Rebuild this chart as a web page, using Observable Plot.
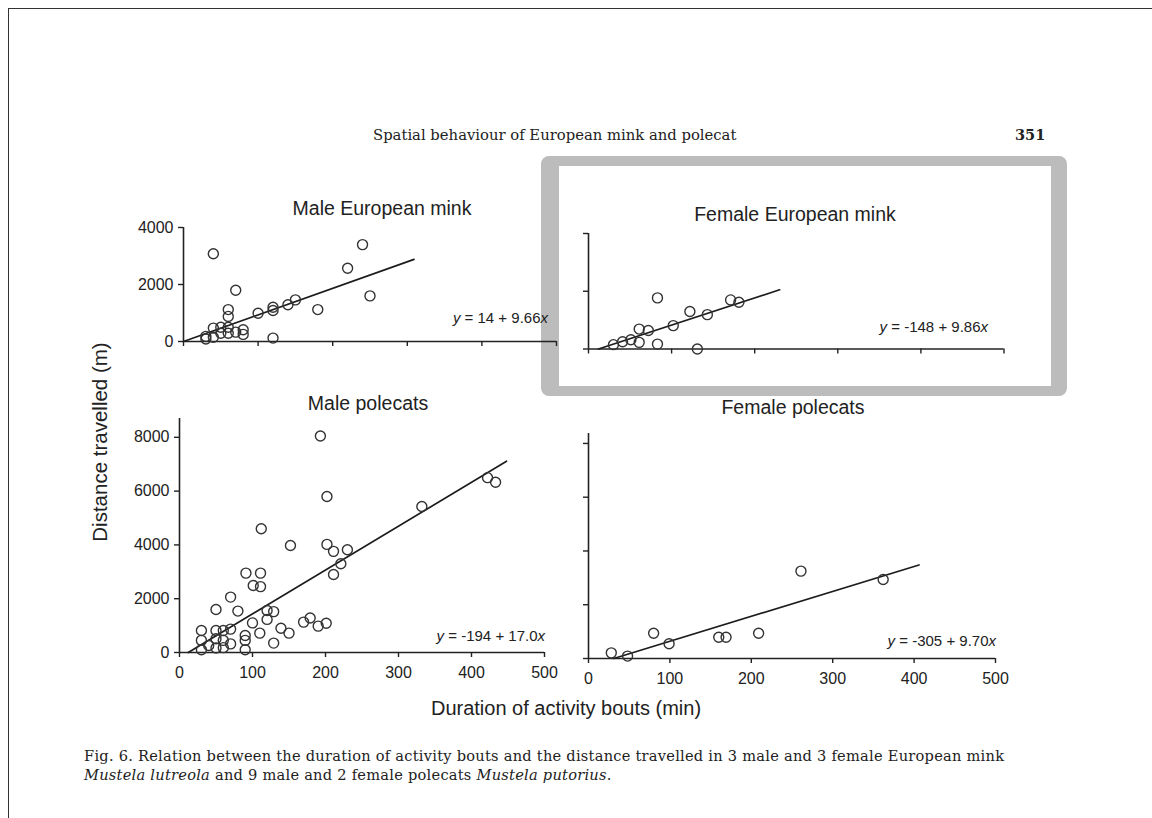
<!DOCTYPE html>
<html>
<head>
<meta charset="utf-8">
<script src="https://cdn.jsdelivr.net/npm/d3@7"></script>
<script src="https://cdn.jsdelivr.net/npm/@observablehq/plot@0.6"></script>
<style>
  html, body { margin: 0; padding: 0; background: #fff; }
  #page { position: relative; width: 1152px; height: 818px; overflow: hidden; background: #fff; color: #222; }
  .abs { position: absolute; white-space: nowrap; }
  .sans { font-family: "Liberation Sans", Arial, sans-serif; }
  .serif { font-family: "DejaVu Serif", "Liberation Serif", serif; }
</style>
</head>
<body>
<div id="page"></div>
<script>
// ---- Data: [duration of activity bout (min), distance travelled (m)] ----
const maleMink = [[30,90],[30,180],[40,150],[40,470],[50,500],[50,290],[60,1120],[60,880],[60,500],[60,290],
  [70,1800],[70,330],[80,410],[80,250],[100,990],[120,1200],[120,1090],[120,120],[140,1290],[150,1460],
  [180,1120],[220,2570],[240,3400],[250,1600],[40,3080]];
const maleMinkFit = [[0,0],[309,2880]];
const maleMinkEq = ["14", "9.66"];

const femaleMink = [[30,150],[41,250],[51,320],[61,230],[61,690],[72,640],[83,1770],[83,170],[102,810],
  [122,1300],[131,0],[143,1190],[171,1700],[181,1620]];
const femaleMinkFit = [[12,0],[230,2050]];
const femaleMinkEq = ["-148", "9.86"];

const malePolecat = [[193,8050],[202,5800],[332,5430],[422,6500],[433,6330],[112,4600],[152,3980],[202,4020],
  [211,3760],[230,3820],[221,3300],[211,2900],[91,2950],[111,2950],[101,2490],[111,2450],[70,2060],[50,1600],
  [80,1540],[120,1560],[129,1520],[120,1230],[100,1100],[170,1130],[179,1280],[190,980],[201,1090],[139,900],
  [150,720],[110,720],[129,350],[30,820],[30,450],[30,100],[40,260],[50,820],[50,510],[50,170],[60,820],
  [60,450],[60,180],[70,870],[70,320],[90,630],[90,450],[90,100]];
const malePolecatFit = [[12,0],[448,7110]];
const malePolecatEq = ["-194", "17.0"];

const femalePolecat = [[28,210],[48,90],[80,940],[99,550],[160,790],[169,790],[209,940],[261,3250],[362,2940]];
const femalePolecatFit = [[31,0],[406,3480]];
const femalePolecatEq = ["-305", "9.70"];

const xTicks = [0, 100, 200, 300, 400, 500];
const yTicksMink = [0, 2000, 4000];
const yTicksPolecat = [0, 2000, 4000, 6000, 8000];

const titles = ["Male European mink", "Female European mink", "Male polecats", "Female polecats"];
const yTitle = "Distance travelled (m)";
const xTitle = "Duration of activity bouts (min)";
const header = "Spatial behaviour of European mink and polecat";
const pageNo = "351";

// ---- Layout helpers ----
const page = document.getElementById("page");
function place(el, left, top) { el.style.position = "absolute"; el.style.left = left + "px"; el.style.top = top + "px"; page.appendChild(el); return el; }
function label(html, cls, css) {
  const d = document.createElement("div");
  d.className = "abs " + cls;
  d.innerHTML = html;
  Object.assign(d.style, css);
  page.appendChild(d);
  return d;
}

function panel({left, right, top, bottom, yMax, yTicks, yLabels, xLabels, points, fit}) {
  const mL = 70, mR = 14, mT = 10, mB = 36;
  const width = right - left + mL + mR, height = bottom - top + mT + mB;
  const chart = Plot.plot({
    width, height, marginLeft: mL, marginRight: mR, marginTop: mT, marginBottom: mB,
    x: {domain: [0, 500]},
    y: {domain: [0, yMax]},
    style: {fontFamily: "'Liberation Sans', Arial, sans-serif", fontSize: "16px", color: "#222", background: "transparent", overflow: "visible"},
    marks: [
      Plot.ruleY([0], {stroke: "#222", strokeWidth: 1.6}),
      Plot.ruleX([0], {stroke: "#222", strokeWidth: 1.6}),
      Plot.axisX({ticks: xTicks, tickSize: 5, tickPadding: 9, strokeWidth: 1.4, label: null,
        tickFormat: xLabels ? (d => String(d)) : (() => "")}),
      Plot.axisY({ticks: yTicks, tickSize: 5, tickPadding: 5, strokeWidth: 1.4, label: null,
        tickFormat: yLabels ? (d => String(d)) : (() => "")}),
      Plot.line(fit, {x: d => d[0], y: d => d[1], stroke: "#1c1c1c", strokeWidth: 1.7}),
      Plot.dot(points, {x: d => d[0], y: d => d[1], r: 5, stroke: "#333", strokeWidth: 1.4, fill: "none"})
    ]
  });
  place(chart, left - mL, top - mT);
}

// ---- Page frame lines ----
const frame = document.createElement("div");
Object.assign(frame.style, {width: "1160px", height: "830px", borderTop: "1.5px solid #333", borderLeft: "1.5px solid #333"});
place(frame, 8, 8);

// ---- Grey highlight box around the female mink panel ----
const box = document.createElement("div");
Object.assign(box.style, {width: "492px", height: "220px", borderStyle: "solid", borderColor: "#bcbcbc",
  borderWidth: "10px 16px 10px 18px", borderRadius: "8px", boxSizing: "content-box"});
place(box, 541, 156);

// ---- Panels ----
panel({left: 183, right: 556, top: 227, bottom: 341, yMax: 4000, yTicks: yTicksMink, yLabels: true, xLabels: false, points: maleMink, fit: maleMinkFit});
panel({left: 587.5, right: 1003, top: 233, bottom: 348.5, yMax: 4000, yTicks: yTicksMink, yLabels: false, xLabels: false, points: femaleMink, fit: femaleMinkFit});
panel({left: 179, right: 544, top: 418, bottom: 652, yMax: 8700, yTicks: yTicksPolecat, yLabels: true, xLabels: true, points: malePolecat, fit: malePolecatFit});
panel({left: 588, right: 995, top: 433, bottom: 658, yMax: 8370, yTicks: yTicksPolecat, yLabels: false, xLabels: true, points: femalePolecat, fit: femalePolecatFit});

// ---- Panel titles ----
const titlePos = [[382, 208], [795, 214], [368, 403], [793, 407]];
titles.forEach((t, i) => label(t, "sans", {left: titlePos[i][0] + "px", top: titlePos[i][1] + "px", transform: "translate(-50%,-50%)", fontSize: "19.5px"}));

// ---- Equations ----
function eq(e) { return `<i>y</i> = ${e[0]} + ${e[1]}<i>x</i>`; }
const eqPos = [[maleMinkEq, 548, 317], [femaleMinkEq, 988, 326], [malePolecatEq, 545, 635], [femalePolecatEq, 996, 640]];
eqPos.forEach(([e, r, y]) => label(eq(e), "sans", {left: r + "px", top: y + "px", transform: "translate(-100%,-50%)", fontSize: "15px"}));

// ---- Axis titles ----
label(yTitle, "sans", {left: "100px", top: "442px", transform: "translate(-50%,-50%) rotate(-90deg)", fontSize: "20.5px"});
label(xTitle, "sans", {left: "566px", top: "708px", transform: "translate(-50%,-50%)", fontSize: "20px"});

// ---- Page header and caption ----
label(header, "serif", {left: "373px", top: "134px", transform: "translateY(-50%)", fontSize: "14.8px"});
label(pageNo, "serif", {left: "1015px", top: "134px", transform: "translateY(-50%)", fontSize: "14.5px", fontWeight: "bold"});
label("Fig. 6. Relation between the duration of activity bouts and the distance travelled in 3 male and 3 female European mink",
  "serif", {left: "84px", top: "755px", transform: "translateY(-50%)", fontSize: "14.6px", letterSpacing: "0.25px"});
label("<i>Mustela lutreola</i> and 9 male and 2 female polecats <i>Mustela putorius</i>.",
  "serif", {left: "84px", top: "774px", transform: "translateY(-50%)", fontSize: "14.6px", letterSpacing: "0.25px"});
</script>
</body>
</html>
